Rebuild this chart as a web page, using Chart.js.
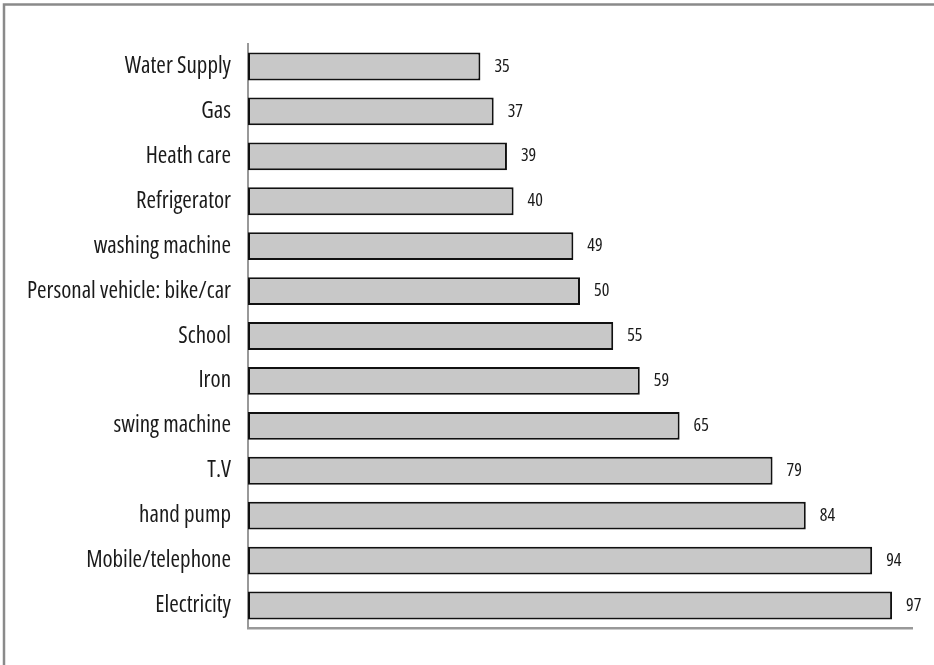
<!DOCTYPE html>
<html>
<head>
<meta charset="utf-8">
<script src="https://cdn.jsdelivr.net/npm/chart.js@4/dist/chart.umd.min.js"></script>
<style>
  html, body { margin: 0; padding: 0; background: #fff; }
  #wrap { position: relative; width: 934px; height: 665px; }
</style>
</head>
<body>
<div id="wrap"><canvas id="c" width="934" height="665"></canvas></div>
<script>
const categories = ["Water Supply", "Gas", "Heath care", "Refrigerator", "washing machine",
  "Personal vehicle: bike/car", "School", "Iron", "swing machine", "T.V", "hand pump",
  "Mobile/telephone", "Electricity"];
const values = [35, 37, 39, 40, 49, 50, 55, 59, 65, 79, 84, 94, 97];
const axisMin = 0;
const axisMax = 100;

const FONT = "'Open Sans', sans-serif";

const framePlugin = {
  id: 'frame',
  beforeDraw(chart) {
    const ctx = chart.ctx;
    ctx.save();
    ctx.fillStyle = '#fff';
    ctx.fillRect(0, 0, chart.width, chart.height);
    ctx.strokeStyle = '#8a8a8a';
    ctx.lineWidth = 2.5;
    ctx.beginPath();
    ctx.moveTo(4, chart.height);
    ctx.lineTo(4, 4.5);
    ctx.lineTo(chart.width, 4.5);
    ctx.stroke();
    ctx.restore();
  }
};

const valueLabels = {
  id: 'valueLabels',
  afterDatasetsDraw(chart) {
    const ctx = chart.ctx;
    const meta = chart.getDatasetMeta(0);
    ctx.save();
    ctx.font = "normal 380 condensed 18px " + FONT;
    ctx.fillStyle = '#1a1a1a';
    ctx.textAlign = 'left';
    ctx.textBaseline = 'middle';
    meta.data.forEach((bar, i) => {
      ctx.fillText(String(values[i]), bar.x + 14, bar.y);
    });
    ctx.restore();
  }
};

new Chart(document.getElementById('c'), {
  type: 'bar',
  data: {
    labels: categories,
    datasets: [{
      data: values,
      backgroundColor: '#c8c8c8',
      borderColor: '#111',
      borderWidth: 2,
      borderSkipped: false,
      barPercentage: 0.62,
      categoryPercentage: 1.0
    }]
  },
  options: {
    indexAxis: 'y',
    responsive: false,
    animation: false,
    devicePixelRatio: 1,
    layout: { padding: { left: 0, right: 22, top: 44, bottom: 37 } },
    plugins: { legend: { display: false }, tooltip: { enabled: false } },
    scales: {
      x: {
        min: axisMin, max: axisMax,
        grid: { display: false, drawTicks: false },
        border: { display: true, color: '#999', width: 2.5 },
        ticks: { display: false },
        afterFit(s) { s.height = 0; }
      },
      y: {
        grid: { display: false, drawTicks: false },
        border: { display: true, color: '#999', width: 2 },
        ticks: {
          padding: 17,
          color: '#1a1a1a',
          font: { family: FONT, size: 23, weight: '380 condensed' }
        },
        afterFit(s) { s.width = 248; }
      }
    }
  },
  plugins: [framePlugin, valueLabels]
});
</script>
</body>
</html>
